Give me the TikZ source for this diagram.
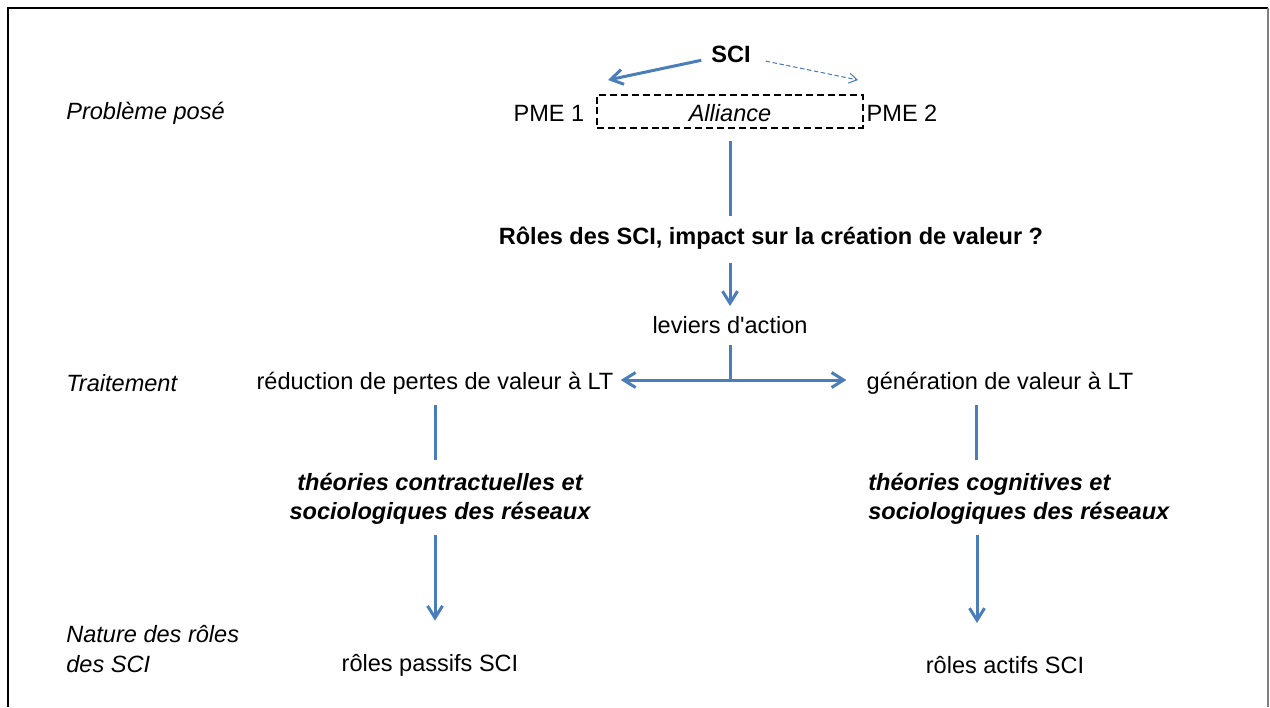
\documentclass[tikz,border=0pt]{standalone}
\usepackage{fontspec}
\setmainfont{Liberation Sans}
\usetikzlibrary{arrows.meta}
\definecolor{linkblue}{RGB}{74,126,187}
\newcommand{\bodysize}{\fontsize{13.4pt}{16.8pt}\selectfont}

\begin{document}
\begin{tikzpicture}[x=0.02cm, y=-0.02cm,
    every node/.style={font=\bodysize, inner sep=0pt},
    link/.style={draw=linkblue, line width=1.7pt},
    arrow/.style={link, -{Straight Barb[length=0.24cm, width=0.3cm]}},
    hint/.style={draw=linkblue, line width=0.6pt, dash pattern=on 2.5pt off 1.5pt,
        -{Straight Barb[length=0.16cm, width=0.2cm]}},
    side/.style={font=\bodysize\itshape, anchor=west, align=left},
    theory/.style={font=\bodysize\bfseries\itshape},
    alliancebox/.style={draw, line width=1.5pt, dash pattern=on 4pt off 2.2pt,
        minimum width=5.32cm, minimum height=0.66cm, text height=11.8pt}]
            \useasboundingbox (0,0) rectangle (1270,707);
            \draw[line width=1.2pt] (8,707) -- (8,8) -- (1268,8);
            \draw[gray, line width=1.2pt] (1268,8) -- (1268,707);

            \node[side] (problem) at (66,113) {Problème posé};
            \node[side] (treatment) at (66,383) {Traitement};
            \node[side] (nature) at (66,649) {Nature des rôles\\des SCI};

            \node (sci) at (731,54) {\bfseries SCI};
            \node (pme1) at (549,113) {PME 1};
            \node[alliancebox] (alliance) at (730,111.5) {\itshape Alliance};
            \node (pme2) at (902,113) {PME 2};
            \coordinate (tipL) at (608,80);
            \coordinate (tipR) at (858,80);

            \node (question) at (771,238) {\bfseries Rôles des SCI, impact sur la création de valeur ?};
            \node (levers) at (730,325) {leviers d\textquotesingle action};
            \coordinate (fork) at (730,380);

            \node (reduce) at (435,383) {réduction de pertes de valeur à LT};
            \node (generate) at (1000,383) {génération de valeur à LT};

            \node[theory, align=center] (contract) at (440,499) {théories contractuelles et\\sociologiques des réseaux};
            \node[theory, align=left, anchor=west] (cognitive) at (868,499) {théories cognitives et\\sociologiques des réseaux};

            \node (passive) at (430,665) {rôles passifs SCI};
            \node (active) at (1005,665) {rôles actifs SCI};

            \draw[arrow, shorten <=0.2cm] (sci) -- (tipL);
            \draw[hint, shorten <=0.3cm] (sci) -- (tipR);

            \draw[link, shorten <=0.24cm, shorten >=0.2cm] (alliance.south) -- (alliance.south |- question.north);
            \draw[arrow, shorten <=0.26cm, shorten >=0.2cm] (levers |- question.south) -- (levers.north);

            \draw[link, shorten <=0.22cm] (levers.south) -- (fork);
            \draw[arrow, shorten >=0.14cm] (fork) -- (fork -| reduce.east);
            \draw[arrow, shorten >=0.4cm] (fork) -- (fork -| generate.west);

            \draw[link, shorten <=0.22cm, shorten >=0.26cm] (reduce.south) -- (reduce.south |- contract.north);
            \draw[arrow, shorten <=0.2cm, shorten >=0.66cm] (reduce.south |- contract.south) -- (reduce.south |- passive.north);

            \draw[link, shorten <=0.22cm, shorten >=0.26cm] ([xshift=-0.48cm]generate.south) -- ([xshift=-0.48cm]generate.south |- cognitive.north);
            \draw[arrow, shorten <=0.2cm, shorten >=0.66cm] ([xshift=-0.46cm]generate.south |- cognitive.south) -- ([xshift=-0.46cm]generate.south |- active.north);
        \end{tikzpicture}
\end{document}
